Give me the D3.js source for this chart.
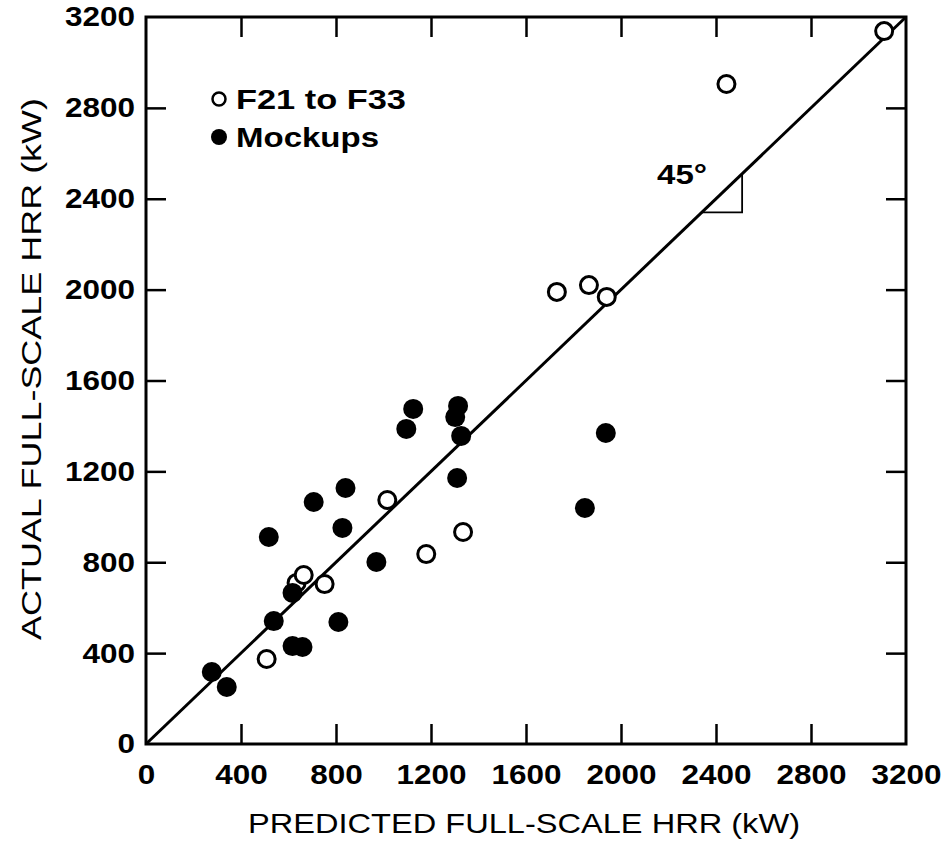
<!DOCTYPE html>
<html>
<head>
<meta charset="utf-8">
<script src="https://cdn.jsdelivr.net/npm/d3@7"></script>
<style>
body { margin: 0; background: #fff; }
text { font-family: "Liberation Sans", Arial, sans-serif; fill: #000; }
</style>
</head>
<body>
<script>
// F21 to F33 (open circles): predicted vs actual HRR, kW
var testsPredicted = [508, 634, 664, 752, 1016, 1180, 1335, 1730, 1865, 1940, 2444, 3108];
var testsActual    = [374, 709, 744, 704, 1074, 836, 933, 1990, 2020, 1968, 2905, 3138];
// Mockups (filled circles)
var mockPredicted = [277, 340, 617, 659, 538, 810, 617, 517, 706, 840, 827, 970, 1310, 1125, 1096, 1314, 1302, 1327, 1848, 1936];
var mockActual    = [317, 251, 431, 427, 541, 537, 665, 911, 1065, 1127, 951, 801, 1171, 1475, 1387, 1488, 1439, 1356, 1039, 1369];
// axis ticks
var tickValues = [0, 400, 800, 1200, 1600, 2000, 2400, 2800, 3200];
// the 45 degree line and its little angle marker
var diagonal = [0, 3200];
var angleMark = [[2340, 2340], [2510, 2340], [2510, 2510]];

var width = 943, height = 843;
var plotLeft = 146, plotRight = 906, plotTop = 17, plotBottom = 744;

var svg = d3.select("body").append("svg")
	.attr("width", width)
	.attr("height", height);

var x = d3.scaleLinear().domain([0, 3200]).range([plotLeft, plotRight]);
var y = d3.scaleLinear().domain([0, 3200]).range([plotBottom, plotTop]);

//larghezza per cifra delle etichette (il font originale e' molto largo)
var digitW = 17.5;

function styleAxis(g, labels) {
	g.select(".domain").remove();
	g.selectAll(".tick line").attr("stroke", "#000").attr("stroke-width", 2.5);
	g.selectAll(".tick").filter(function(d) { return d == 0 || d == 3200; })
		.select("line").remove();
	if (labels) {
		g.selectAll(".tick text")
			.attr("font-size", 28)
			.attr("font-weight", "bold")
			.attr("font-family", "'Liberation Sans', Arial, sans-serif")
			.attr("textLength", function(d) { return String(d).length * digitW; })
			.attr("lengthAdjust", "spacingAndGlyphs");
	} else {
		g.selectAll(".tick text").remove();
	}
}

svg.append("g")
	.attr("transform", "translate(0," + plotBottom + ")")
	.call(d3.axisBottom(x).tickValues(tickValues).tickFormat(d3.format("d")).tickSize(-20).tickPadding(20))
	.call(styleAxis, true);

svg.append("g")
	.attr("transform", "translate(" + plotLeft + ",0)")
	.call(d3.axisLeft(y).tickValues(tickValues).tickFormat(d3.format("d")).tickSize(-20).tickPadding(11))
	.call(styleAxis, true);

svg.append("g")
	.attr("transform", "translate(0," + plotTop + ")")
	.call(d3.axisTop(x).tickValues(tickValues).tickSize(-20))
	.call(styleAxis, false);

svg.append("g")
	.attr("transform", "translate(" + plotRight + ",0)")
	.call(d3.axisRight(y).tickValues(tickValues).tickSize(-20))
	.call(styleAxis, false);

// frame
svg.append("rect")
	.attr("x", plotLeft).attr("y", plotTop)
	.attr("width", plotRight - plotLeft).attr("height", plotBottom - plotTop)
	.attr("fill", "none").attr("stroke", "#000").attr("stroke-width", 3);

// 45 degree line
svg.append("line")
	.attr("x1", x(diagonal[0])).attr("y1", y(diagonal[0]))
	.attr("x2", x(diagonal[1])).attr("y2", y(diagonal[1]))
	.attr("stroke", "#000").attr("stroke-width", 3);

svg.append("path")
	.attr("d", d3.line().x(function(d) { return x(d[0]); }).y(function(d) { return y(d[1]); })(angleMark))
	.attr("fill", "none").attr("stroke", "#000").attr("stroke-width", 1.8);

svg.append("text")
	.attr("x", 657).attr("y", 184)
	.attr("font-size", 28).attr("font-weight", "bold")
	.attr("textLength", 50).attr("lengthAdjust", "spacingAndGlyphs")
	.text("45°");

// points
svg.selectAll("circle.test")
	.data(d3.range(testsPredicted.length))
	.enter().append("circle")
	.attr("class", "test")
	.attr("cx", function(i) { return x(testsPredicted[i]); })
	.attr("cy", function(i) { return y(testsActual[i]); })
	.attr("r", 8.5)
	.attr("fill", "#fff").attr("stroke", "#000").attr("stroke-width", 3);

svg.selectAll("circle.mock")
	.data(d3.range(mockPredicted.length))
	.enter().append("circle")
	.attr("class", "mock")
	.attr("cx", function(i) { return x(mockPredicted[i]); })
	.attr("cy", function(i) { return y(mockActual[i]); })
	.attr("r", 10)
	.attr("fill", "#000");

// legend
svg.append("circle").attr("cx", 219).attr("cy", 99).attr("r", 6.5)
	.attr("fill", "#fff").attr("stroke", "#000").attr("stroke-width", 2.5);
svg.append("circle").attr("cx", 219).attr("cy", 137).attr("r", 8)
	.attr("fill", "#000");
svg.append("text").attr("x", 236).attr("y", 109)
	.attr("font-size", 27).attr("font-weight", "bold")
	.attr("textLength", 170).attr("lengthAdjust", "spacingAndGlyphs")
	.text("F21 to F33");
svg.append("text").attr("x", 236).attr("y", 147)
	.attr("font-size", 27).attr("font-weight", "bold")
	.attr("textLength", 143).attr("lengthAdjust", "spacingAndGlyphs")
	.text("Mockups");

// axis titles
svg.append("text")
	.attr("x", (plotLeft + plotRight) / 2 - 2).attr("y", 833)
	.attr("text-anchor", "middle")
	.attr("font-size", 28)
	.attr("textLength", 552).attr("lengthAdjust", "spacingAndGlyphs")
	.text("PREDICTED FULL-SCALE HRR (kW)");

svg.append("text")
	.attr("transform", "translate(41,369) rotate(-90)")
	.attr("text-anchor", "middle")
	.attr("font-size", 28)
	.attr("textLength", 542).attr("lengthAdjust", "spacingAndGlyphs")
	.text("ACTUAL FULL-SCALE HRR (kW)");
</script>
</body>
</html>
